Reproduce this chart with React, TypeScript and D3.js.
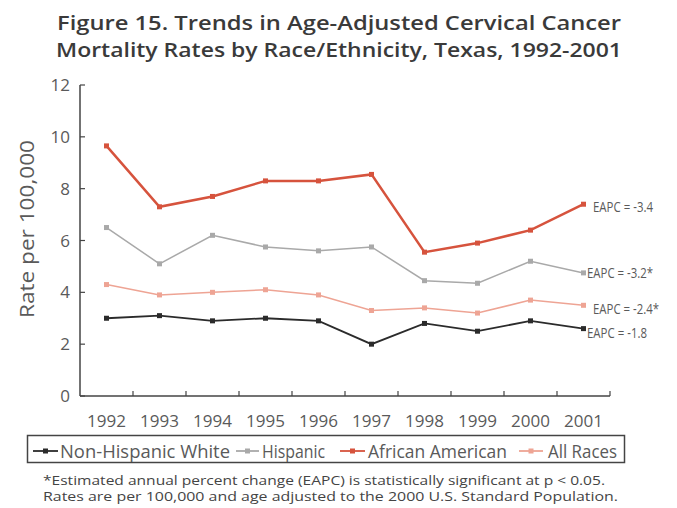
import React from "react";
import * as d3 from "d3";

const years = ["1992","1993","1994","1995","1996","1997","1998","1999","2000","2001"];
const nonHispanicWhite = [3.0, 3.1, 2.9, 3.0, 2.9, 2.0, 2.8, 2.5, 2.9, 2.6];
const hispanic = [6.5, 5.1, 6.2, 5.75, 5.6, 5.75, 4.45, 4.35, 5.2, 4.75];
const africanAmerican = [9.65, 7.3, 7.7, 8.3, 8.3, 8.55, 5.55, 5.9, 6.4, 7.4];
const allRaces = [4.3, 3.9, 4.0, 4.1, 3.9, 3.3, 3.4, 3.2, 3.7, 3.5];
const yTicks = [0, 2, 4, 6, 8, 10, 12];
const eapcLabels = ["EAPC = -1.8", "EAPC = -3.2*", "EAPC = -3.4", "EAPC = -2.4*"];
const seriesNames = ["Non-Hispanic White", "Hispanic", "African American", "All Races"];

const W = 677, H = 508;
const left = 80, right = 610, top = 85, bottom = 396;

export default function App() {
  const x = d3.scaleBand<string>().domain(years).range([left, right]);
  const y = d3.scaleLinear().domain([0, 12]).range([bottom, top]);
  const cx = (d: string) => (x(d) as number) + x.bandwidth() / 2;
  const line = d3.line<number>().x((_, i) => cx(years[i])).y((v) => y(v));

  const series = [
    { name: seriesNames[0], data: nonHispanicWhite, color: "#2b2b2b", width: 1.8, label: eapcLabels[0], lx: 587, ly: 333 },
    { name: seriesNames[1], data: hispanic, color: "#a9a9a9", width: 1.5, label: eapcLabels[1], lx: 587, ly: 273 },
    { name: seriesNames[2], data: africanAmerican, color: "#d6533d", width: 2.5, label: eapcLabels[2], lx: 593, ly: 207 },
    { name: seriesNames[3], data: allRaces, color: "#eea494", width: 1.5, label: eapcLabels[3], lx: 593, ly: 309 },
  ];

  const drawOrder = [series[3], series[1], series[0], series[2]];
  const legendPos = [
    { lx1: 33, lx2: 58, tx: 60, tl: 170 },
    { lx1: 236, lx2: 259, tx: 262, tl: 63 },
    { lx1: 340, lx2: 365, tx: 368, tl: 139 },
    { lx1: 519, lx2: 543, tx: 548, tl: 69 },
  ];
  const grayText = "#5a5a5a";

  return (
    <svg width={W} height={H} style={{ position: "absolute", left: 0, top: 0, background: "#fff" }}
      fontFamily="'Open Sans', 'Noto Sans', sans-serif">
      <text x={339} y={30} textAnchor="middle" fontSize={20} fontWeight={600} fill="#3a3a3a"
        textLength={564} lengthAdjust="spacingAndGlyphs">Figure 15. Trends in Age-Adjusted Cervical Cancer</text>
      <text x={339} y={57} textAnchor="middle" fontSize={20} fontWeight={600} fill="#3a3a3a"
        textLength={566} lengthAdjust="spacingAndGlyphs">Mortality Rates by Race/Ethnicity, Texas, 1992-2001</text>

      {/* axes */}
      <line x1={left} x2={left} y1={top} y2={bottom} stroke="#444" strokeWidth={1.5} />
      <line x1={left} x2={right} y1={bottom} y2={bottom} stroke="#444" strokeWidth={1.5} />
      {yTicks.map((t) => (
        <g key={t}>
          <line x1={left} x2={left + 5} y1={y(t)} y2={y(t)} stroke="#444" strokeWidth={1.2} />
          <text x={70} y={y(t) + 6} textAnchor="end" fontSize={17} fill={grayText}>{t}</text>
        </g>
      ))}
      {years.map((yr, i) => (
        <g key={yr}>
          {i > 0 && <line x1={x(yr) as number} x2={x(yr) as number} y1={bottom} y2={bottom - 5} stroke="#444" strokeWidth={1.2} />}
          <text x={cx(yr)} y={427} textAnchor="middle" fontSize={17} fill={grayText}>{yr}</text>
        </g>
      ))}
      <line x1={right} x2={right} y1={bottom} y2={bottom - 5} stroke="#444" strokeWidth={1.2} />
      <text transform={`translate(34,229) rotate(-90)`} textAnchor="middle" fontSize={20} fill={grayText}
        textLength={178} lengthAdjust="spacingAndGlyphs">Rate per 100,000</text>

      {drawOrder.map((s) => (
        <g key={s.name}>
          <path d={line(s.data) as string} fill="none" stroke={s.color} strokeWidth={s.width} />
          {s.data.map((v, i) => (
            <rect key={i} x={cx(years[i]) - 2.5} y={y(v) - 2.5} width={5} height={5} fill={s.color} />
          ))}
          <text x={s.lx} y={s.ly + 5} fontSize={14} fill={grayText}
            textLength={s.label.endsWith("*") ? 66 : 60} lengthAdjust="spacingAndGlyphs">{s.label}</text>
        </g>
      ))}

      {/* legend */}
      <rect x={27.5} y={435.5} width={597} height={27} fill="none" stroke="#444" strokeWidth={1.5} />
      {series.map((s, i) => (
        <g key={s.name}>
          <line x1={legendPos[i].lx1} x2={legendPos[i].lx2} y1={451} y2={451} stroke={s.color} strokeWidth={1.8} />
          <rect x={(legendPos[i].lx1 + legendPos[i].lx2) / 2 - 2.5} y={448.5} width={5} height={5} fill={s.color} />
          <text x={legendPos[i].tx} y={457.5} fontSize={18} fill={grayText}
            textLength={legendPos[i].tl} lengthAdjust="spacingAndGlyphs">{s.name}</text>
        </g>
      ))}

      <text x={43} y={484.5} fontSize={12} fill="#444" textLength={562} lengthAdjust="spacingAndGlyphs">
        *Estimated annual percent change (EAPC) is statistically significant at p &lt; 0.05.</text>
      <text x={43} y={501} fontSize={12} fill="#444" textLength={575} lengthAdjust="spacingAndGlyphs">
        Rates are per 100,000 and age adjusted to the 2000 U.S. Standard Population.</text>
    </svg>
  );
}
